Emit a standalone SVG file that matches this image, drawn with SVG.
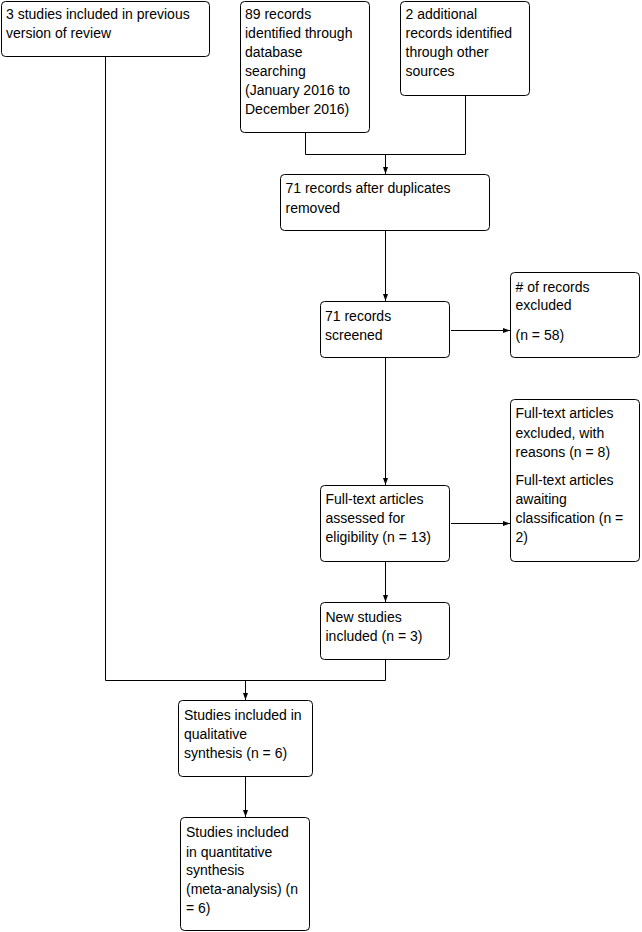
<svg xmlns="http://www.w3.org/2000/svg" width="642" height="932" viewBox="0 0 642 932">
<style>
.box{fill:#fff;stroke:#000;stroke-width:1}
.t{font-family:"Liberation Sans",Arial,sans-serif;font-size:14px;fill:#000}
.c{fill:none;stroke:#000;stroke-width:1}
</style>
<defs>
<marker id="ah" markerUnits="userSpaceOnUse" markerWidth="8" markerHeight="6" refX="7" refY="2.5" orient="auto">
<path d="M0,0 L7,2.5 L0,5 z" fill="#000"/>
</marker>
</defs>
<rect width="642" height="932" fill="#fff"/>
<g id="connectors">
<path class="c" d="M105.5,57 V680.5 H385.5 V660"/>
<path class="c" d="M305.5,133 V154.5 H465.5 V96"/>
<path class="c" d="M385.5,154.5 V174" marker-end="url(#ah)"/>
<path class="c" d="M385.5,231 V301" marker-end="url(#ah)"/>
<path class="c" d="M451,330.5 H510" marker-end="url(#ah)"/>
<path class="c" d="M385.5,358 V485" marker-end="url(#ah)"/>
<path class="c" d="M451,523.5 H510" marker-end="url(#ah)"/>
<path class="c" d="M385.5,562 V602" marker-end="url(#ah)"/>
<path class="c" d="M245.5,680.5 V700" marker-end="url(#ah)"/>
<path class="c" d="M245.5,777 V817" marker-end="url(#ah)"/>
</g>
<g id="n1">
<rect class="box" x="1.5" y="1.5" width="208" height="55" rx="4"/>
<text class="t" x="6" y="19">3 studies included in previous</text>
<text class="t" x="6" y="38">version of review</text>
</g>
<g id="n2">
<rect class="box" x="240.5" y="1.5" width="129" height="131" rx="4"/>
<text class="t" x="245" y="19">89 records</text>
<text class="t" x="245" y="38">identified through</text>
<text class="t" x="245" y="57">database</text>
<text class="t" x="245" y="76">searching</text>
<text class="t" x="245" y="95">(January 2016 to</text>
<text class="t" x="245" y="114">December 2016)</text>
</g>
<g id="n3">
<rect class="box" x="400.5" y="1.5" width="129" height="94" rx="4"/>
<text class="t" x="405.5" y="19">2 additional</text>
<text class="t" x="405.5" y="38">records identified</text>
<text class="t" x="405.5" y="57">through other</text>
<text class="t" x="405.5" y="76">sources</text>
</g>
<g id="n4">
<rect class="box" x="280.5" y="174.5" width="209" height="56" rx="4"/>
<text class="t" x="285.5" y="193">71 records after duplicates</text>
<text class="t" x="285.5" y="212.5">removed</text>
</g>
<g id="n5">
<rect class="box" x="320.5" y="301.5" width="129" height="56" rx="4"/>
<text class="t" x="325" y="321">71 records</text>
<text class="t" x="325" y="339.5">screened</text>
</g>
<g id="n6">
<rect class="box" x="510.5" y="272.5" width="129" height="85" rx="4"/>
<text class="t" x="515.5" y="291.5">&#35; of records</text>
<text class="t" x="515.5" y="310">excluded</text>
<text class="t" x="515.5" y="340">(n = 58)</text>
</g>
<g id="n7">
<rect class="box" x="320.5" y="485.5" width="129" height="76" rx="4"/>
<text class="t" x="325.5" y="504">Full-text articles</text>
<text class="t" x="325.5" y="523">assessed for</text>
<text class="t" x="325.5" y="542">eligibility (n = 13)</text>
</g>
<g id="n8">
<rect class="box" x="510.5" y="399.5" width="129" height="162" rx="4"/>
<text class="t" x="515.5" y="418">Full-text articles</text>
<text class="t" x="515.5" y="437.5">excluded, with</text>
<text class="t" x="515.5" y="456.5">reasons (n = 8)</text>
<text class="t" x="515.5" y="485">Full-text articles</text>
<text class="t" x="515.5" y="504">awaiting</text>
<text class="t" x="515.5" y="523">classification (n =</text>
<text class="t" x="515.5" y="542">2)</text>
</g>
<g id="n9">
<rect class="box" x="320.5" y="602.5" width="129" height="57" rx="4"/>
<text class="t" x="325.5" y="621.5">New studies</text>
<text class="t" x="325.5" y="640.5">included (n = 3)</text>
</g>
<g id="n10">
<rect class="box" x="178.5" y="700.5" width="134" height="76" rx="4"/>
<text class="t" x="184" y="719.5">Studies included in</text>
<text class="t" x="184" y="739">qualitative</text>
<text class="t" x="184" y="758">synthesis (n = 6)</text>
</g>
<g id="n11">
<rect class="box" x="180.5" y="817.5" width="129" height="113" rx="4"/>
<text class="t" x="186" y="836.5">Studies included</text>
<text class="t" x="186" y="856.5">in quantitative</text>
<text class="t" x="186" y="875">synthesis</text>
<text class="t" x="186" y="894">(meta-analysis) (n</text>
<text class="t" x="186" y="913">= 6)</text>
</g>
</svg>
